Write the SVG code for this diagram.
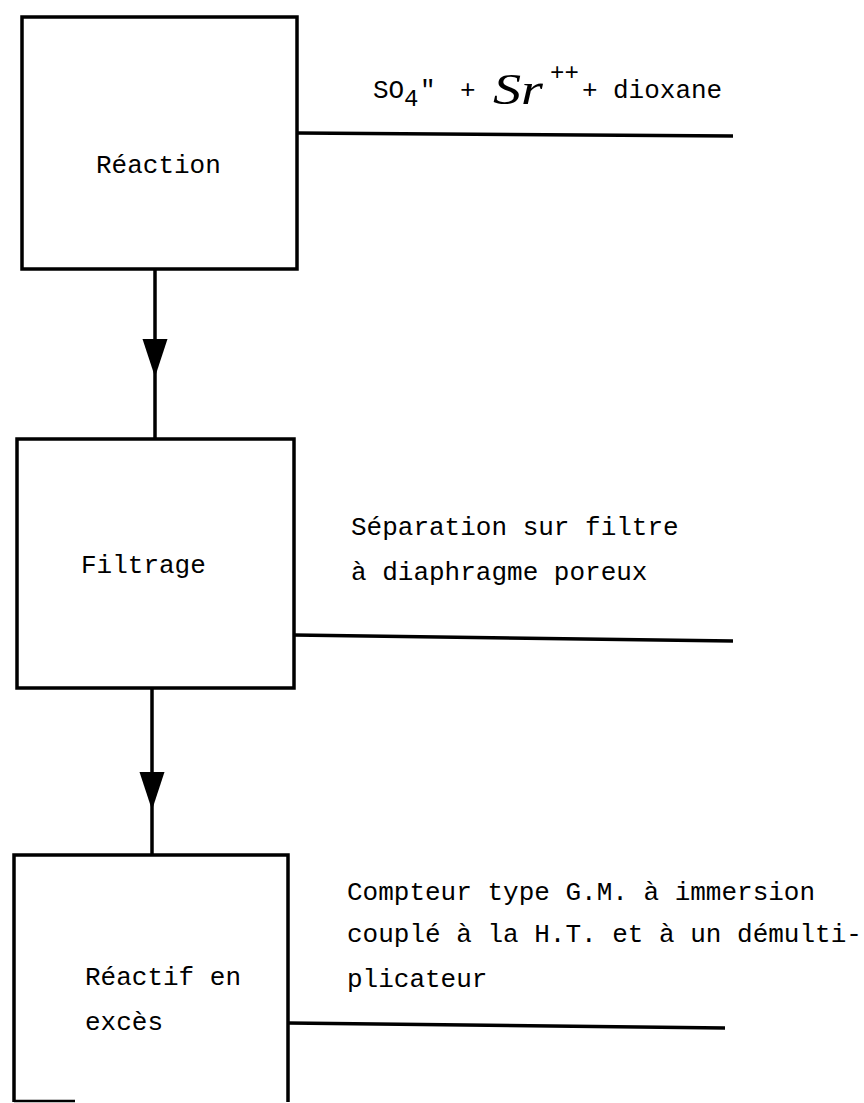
<svg xmlns="http://www.w3.org/2000/svg" width="864" height="1103" viewBox="0 0 864 1103">
<style>
.box{fill:none;stroke:#000;stroke-width:3.5}
.ln{fill:none;stroke:#000;stroke-width:3.5}
.t{font-family:"Liberation Mono","Courier New",monospace;font-size:26px;fill:#000}
.hand{font-family:"Liberation Serif",serif;font-style:italic;font-size:44px;fill:#000}
</style>
<defs>
<marker id="arr" markerUnits="userSpaceOnUse" markerWidth="40" markerHeight="28" refX="38" refY="12.5" orient="auto" viewBox="0 0 40 28">
<path d="M0,0 L38,12.5 L0,25 Z" fill="#000"/>
</marker>
</defs>
<rect width="864" height="1103" fill="#fff"/>
<g id="connectors">
<path class="ln" d="M155,269 L155,377 L155,439" marker-mid="url(#arr)"/>
<path class="ln" d="M152,688 L152,810 L152,855" marker-mid="url(#arr)"/>
<path class="ln" d="M297,133 L733,136"/>
<path class="ln" d="M294,635 L733,641"/>
<path class="ln" d="M288,1023 L725,1028"/>
</g>
<g id="reaction">
<rect class="box" x="22" y="17" width="275" height="252"/>
<text class="t" x="96" y="173">Réaction</text>
</g>
<g id="filtrage">
<rect class="box" x="17" y="439" width="277" height="249"/>
<text class="t" x="81" y="573">Filtrage</text>
</g>
<g id="reactif">
<path class="box" d="M14,1102 L14,855 L288,855 L288,1102"/>
<path d="M14,1101 L75,1101" stroke="#000" stroke-width="2.5"/>
<text class="t" x="85" y="985">Réactif en</text>
<text class="t" x="85" y="1030">excès</text>
</g>
<g id="label-reaction">
<text class="t" y="98"><tspan x="373">SO</tspan><tspan x="404" y="106" font-size="24">4</tspan><tspan x="420" y="98">"</tspan><tspan x="460">+</tspan><tspan class="hand" x="493" y="104" textLength="50" lengthAdjust="spacingAndGlyphs">Sr</tspan><tspan x="550" y="80" font-size="24">++</tspan><tspan x="582" y="98">+</tspan><tspan x="613">dioxane</tspan></text>
</g>
<g id="label-filtrage">
<text class="t" x="351" y="535">Séparation sur filtre</text>
<text class="t" x="351" y="580">à diaphragme poreux</text>
</g>
<g id="label-reactif">
<text class="t" x="347" y="900">Compteur type G.M. à immersion</text>
<text class="t" x="347" y="942">couplé à la H.T. et à un démulti-</text>
<text class="t" x="347" y="987">plicateur</text>
</g>
</svg>
